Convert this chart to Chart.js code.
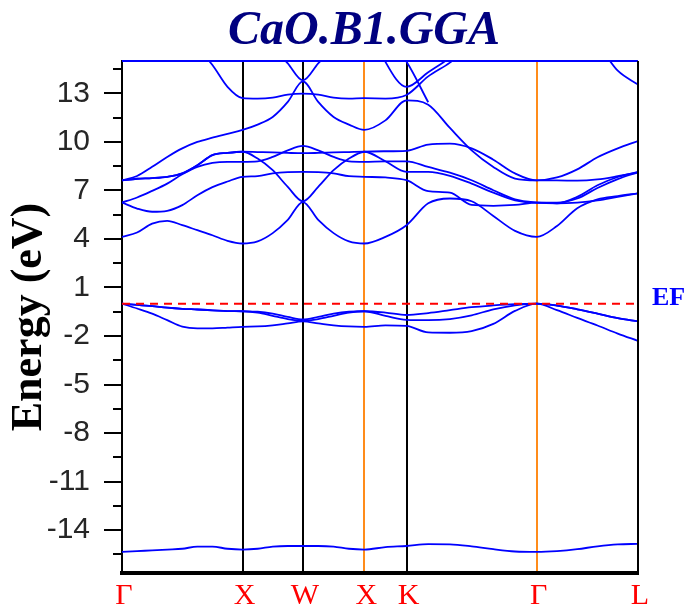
<!DOCTYPE html>
<html>
<head>
<meta charset="utf-8">
<title>CaO.B1.GGA</title>
<style>
  html, body { margin: 0; padding: 0; background: #ffffff; }
  #wrap { width: 686px; height: 610px; }
</style>
<script src="https://cdn.jsdelivr.net/npm/chart.js@4.4.1/dist/chart.umd.min.js"></script>
</head>
<body>
<div id="wrap"><canvas id="bands" width="686" height="610"></canvas></div>
<script>
// k-path positions (units of 2π/a) along Γ-X-W-X-K-Γ-L
const kPath = [
  0, 0.125, 0.25, 0.375, 0.5, 0.625, 0.75, 0.875, 1.0,
  1.125, 1.25, 1.375, 1.5,
  1.6275, 1.755, 1.8825, 2.01,
  2.185, 2.36,
  2.54, 2.72, 2.90, 3.08, 3.26, 3.44,
  3.608, 3.776, 3.944, 4.112, 4.28
];

// high-symmetry points and their labels
const kPoints = [0, 1.0, 1.5, 2.01, 2.36, 3.44, 4.28];
const kLabels = ['Γ', 'X', 'W', 'X', 'K', 'Γ', 'L'];

// energy axis ticks (eV)
const yMajorTicks = [-14, -11, -8, -5, -2, 1, 4, 7, 10, 13];
const yMinorTicks = [-15.5, -12.5, -9.5, -6.5, -3.5, -0.5, 2.5, 5.5, 8.5, 11.5, 14.5];
const energyMin = -16.65;
const energyMax = 15;
const fermiLevel = 0;

// O 2s band
const semicore = [
  -15.35, -15.3, -15.25, -15.2, -15.15, -15.02, -15.02, -15.15, -15.2,
  -15.15, -15.02, -14.98, -14.98,
  -14.98, -15.02, -15.15, -15.2,
  -15.05, -14.98,
  -14.87, -14.88, -15.0, -15.18, -15.32, -15.35,
  -15.3, -15.18, -15.0, -14.88, -14.85
];

// O 2p valence bands
const valence1 = [
  0, -0.3, -0.62, -1.02, -1.42, -1.53, -1.53, -1.48, -1.43,
  -1.41, -1.34, -1.22, -1.1,
  -1.22, -1.34, -1.41, -1.43,
  -1.34, -1.38,
  -1.78, -1.8, -1.7, -1.25, -0.45, 0,
  -0.4, -0.88, -1.35, -1.85, -2.3
];
const valence2 = [
  0, -0.07, -0.15, -0.25, -0.32, -0.36, -0.41, -0.46, -0.47,
  -0.55, -0.75, -0.95, -1.05,
  -0.95, -0.75, -0.55, -0.47,
  -0.75, -1.0,
  -1.02, -0.95, -0.72, -0.35, -0.1, 0,
  -0.12, -0.35, -0.62, -0.9, -1.1
];
const valence3 = [
  0, -0.07, -0.15, -0.25, -0.32, -0.36, -0.41, -0.46, -0.47,
  -0.5, -0.62, -0.82, -0.98,
  -0.82, -0.62, -0.5, -0.47,
  -0.55, -0.7,
  -0.58, -0.4, -0.22, -0.11, -0.03, 0,
  -0.12, -0.35, -0.62, -0.9, -1.1
];

// conduction bands (null where the band is far above the plotted window)
const conduction1 = [
  4.13, 4.4, 4.95, 5.12, 4.85, 4.54, 4.23, 3.88, 3.72,
  3.85, 4.36, 5.18, 6.28,
  5.18, 4.36, 3.85, 3.72,
  4.13, 4.85,
  6.2, 6.5, 6.33, 5.42, 4.5, 4.13,
  4.8, 5.9, 6.45, 6.65, 6.82
];
const conduction2 = [
  6.25, 5.88, 5.68, 5.74, 6.09, 6.7, 7.2, 7.55, 7.84,
  7.88, 8.05, 8.13, 8.15,
  8.13, 8.05, 7.88, 7.84,
  7.8, 7.63,
  6.95, 6.86, 6.1, 6.05, 6.1, 6.25,
  6.2, 6.25, 6.38, 6.6, 6.82
];
const conduction3 = [
  6.25, 6.56, 6.97, 7.42, 8.0, 8.45, 8.7, 8.77, 8.77,
  8.8, 9.07, 9.48, 9.75,
  9.48, 9.07, 8.8, 8.77,
  8.8, 8.8,
  8.45, 8.1, 7.63, 7.01, 6.45, 6.25,
  6.2, 6.6, 7.32, 7.83, 8.14
];
const conduction4 = [
  7.62, 7.72, 7.76, 7.84, 8.05, 8.56, 9.18, 9.32, 9.39,
  8.97, 8.25, 7.22, 6.33,
  7.22, 8.25, 8.97, 9.39,
  9.42, 9.45,
  9.83, 9.89, 9.6, 8.9, 8.05, 7.62,
  7.8, 8.3, 9.05, 9.6, 10.05
];
const conduction5 = [
  7.62, 7.72, 7.76, 7.84, 8.05, 8.56, 9.18, 9.32, 9.39,
  9.37, 9.35, 9.32, 9.3,
  9.32, 9.35, 9.37, 9.39,
  8.8, 8.15,
  8.14, 7.9, 7.42, 6.86, 6.39, 6.25,
  6.25, 6.5, 7.15, 7.7, 8.12
];
const conduction6 = [
  7.62, 7.89, 8.46, 9.07, 9.6, 10.0, 10.26, 10.5, 10.74,
  11.07, 11.54, 12.47, 13.74,
  12.47, 11.54, 11.07, 10.74,
  11.33, 12.57,
  12.3, 10.86, 9.48, 8.45, 7.73, 7.62,
  7.62, 7.6, 7.68, 7.88, 8.12
];
const conduction7 = [
  null, null, null, null, 16.5, 15.8, 14.75, 13.4, 12.7,
  12.67, 12.73, 12.92, 12.98,
  12.92, 12.73, 12.67, 12.7,
  12.68, 12.9,
  14.05, 14.9, 16.0, null, null, null,
  null, null, null, null, null
];
const conduction8 = [
  null, null, null, null, null, null, null, null, 18,
  17, 15.9, 14.85, 13.8,
  14.85, 15.9, 17, 18,
  14.95, 13.4,
  14.3, 15.2, 16.3, null, null, null,
  null, 16.8, 16.0, 14.4, 13.54
];
const conduction9 = [
  null, null, null, null, null, null, null, null, null,
  null, null, null, null,
  null, null, null, null,
  16.5, 14.95,
  12.45, null, null, null, null, null,
  null, null, null, null, null
];

const bandSeries = [
  semicore, valence1, valence2, valence3,
  conduction1, conduction2, conduction3, conduction4, conduction5,
  conduction6, conduction7, conduction8, conduction9
];

// ---- styling ----
const BAND_COLOR = '#0000ff';
const SERIF = "'Liberation Serif', 'Times New Roman', serif";
const SANS = "'Liberation Sans', Arial, sans-serif";
const kLineColors = ['#000000', '#000000', '#000000', '#ff8c1a', '#000000', '#ff8c1a', '#000000'];

const toPoints = values => values.map((e, i) => ({ x: kPath[i], y: e }));

const datasets = bandSeries.map(values => ({
  data: toPoints(values),
  borderColor: BAND_COLOR,
  borderWidth: 1.8,
  pointRadius: 0,
  fill: false,
  spanGaps: false,
  cubicInterpolationMode: 'monotone'
}));

datasets.unshift({
  data: [{ x: kPoints[0], y: fermiLevel }, { x: kPoints[kPoints.length - 1], y: fermiLevel }],
  borderColor: '#ff0000',
  borderWidth: 2,
  borderDash: [8, 6],
  pointRadius: 0,
  fill: false
});

// title, frame, minor ticks and Fermi-level tag
const decorations = {
  id: 'decorations',
  afterDatasetsDraw(chart) {
    const { ctx, chartArea: a } = chart;
    ctx.save();
    ctx.lineWidth = 2;
    ctx.strokeStyle = BAND_COLOR;
    ctx.beginPath();
    ctx.moveTo(a.left, a.top);
    ctx.lineTo(a.right, a.top);
    ctx.stroke();
    ctx.strokeStyle = '#000000';
    ctx.beginPath();
    ctx.moveTo(a.right, a.top);
    ctx.lineTo(a.right, a.bottom);
    ctx.stroke();
    ctx.restore();
  },
  afterDraw(chart) {
    const { ctx, chartArea: a, scales: { y } } = chart;
    ctx.save();
    // minor ticks
    ctx.strokeStyle = '#000000';
    ctx.lineWidth = 2;
    yMinorTicks.forEach(v => {
      const py = Math.round(y.getPixelForValue(v));
      ctx.beginPath();
      ctx.moveTo(a.left - 9, py);
      ctx.lineTo(a.left, py);
      ctx.stroke();
    });
    // title
    ctx.fillStyle = '#000080';
    ctx.font = 'italic bold 48px ' + SERIF;
    ctx.textAlign = 'center';
    ctx.textBaseline = 'alphabetic';
    ctx.fillText('CaO.B1.GGA', 364, 44);
    // Fermi level tag
    ctx.fillStyle = '#0000ff';
    ctx.font = 'bold 26px ' + SERIF;
    ctx.textAlign = 'left';
    ctx.textBaseline = 'middle';
    ctx.fillText('EF', a.right + 14, y.getPixelForValue(fermiLevel) - 5);
    ctx.restore();
  }
};

new Chart(document.getElementById('bands'), {
  type: 'line',
  data: { datasets },
  options: {
    responsive: false,
    animation: false,
    events: [],
    devicePixelRatio: 1,
    layout: { padding: { top: 61, right: 48, bottom: 0, left: 0 } },
    plugins: {
      legend: { display: false },
      tooltip: { enabled: false },
      title: { display: false }
    },
    scales: {
      x: {
        type: 'linear',
        min: kPoints[0],
        max: kPoints[kPoints.length - 1],
        afterBuildTicks: scale => { scale.ticks = kPoints.map(v => ({ value: v })); },
        afterFit: scale => { scale.height = 37; },
        ticks: {
          autoSkip: false,
          maxRotation: 0,
          padding: 5,
          labelOffset: 2,
          color: '#ff0000',
          font: { family: SERIF, size: 30 },
          callback: (value, index) => kLabels[index]
        },
        grid: {
          drawTicks: false,
          lineWidth: 2,
          color: ctx => kLineColors[ctx.index] || '#000000'
        },
        border: { display: true, color: '#000000', width: 4 }
      },
      y: {
        type: 'linear',
        min: energyMin,
        max: energyMax,
        afterBuildTicks: scale => { scale.ticks = yMajorTicks.map(v => ({ value: v })); },
        afterFit: scale => { scale.width = 122; },
        ticks: {
          padding: 14,
          color: '#262626',
          font: { family: SANS, size: 30 }
        },
        grid: {
          drawOnChartArea: false,
          drawTicks: true,
          tickLength: 18,
          lineWidth: 2,
          tickColor: '#000000'
        },
        border: { display: true, color: '#000000', width: 2 },
        title: {
          display: true,
          text: 'Energy (eV)',
          color: '#000000',
          font: { family: SERIF, size: 44, weight: 'bold' },
          padding: { top: 3, bottom: 0 }
        }
      }
    }
  },
  plugins: [decorations]
});
</script>
</body>
</html>
